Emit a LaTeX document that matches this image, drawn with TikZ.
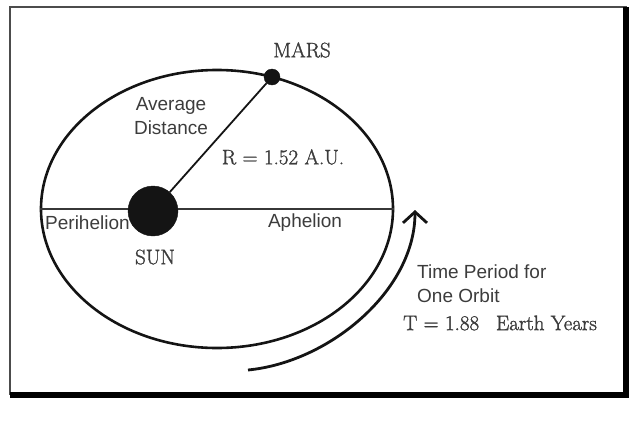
\documentclass[tikz,border=0pt]{standalone}
\usepackage{fontspec}
\setsansfont{Liberation Sans}
\newfontfamily\heavyroman[FakeBold=1.4]{Latin Modern Roman}
\usetikzlibrary{arrows.meta,positioning,shapes.geometric}
\definecolor{inkcolor}{RGB}{20,20,20}
\definecolor{labelgray}{RGB}{60,60,60}
\tikzset{
  body/.style      = {circle,fill=inkcolor,draw=inkcolor,inner sep=0pt},
  romanlbl/.style  = {font=\heavyroman\fontsize{21}{25}\selectfont,text=labelgray,inner sep=0pt},
  sanslbl/.style   = {font=\sffamily\fontsize{19}{23.5}\selectfont,text=labelgray,inner sep=0pt},
  orbitline/.style = {ellipse,draw=inkcolor,line width=2.6pt,inner sep=0pt},
  axisline/.style  = {draw=inkcolor!85,line width=1.8pt},
  radline/.style   = {draw=inkcolor,line width=1.8pt},
  period/.style    = {-{Straight Barb[length=11pt,width=24pt]},line width=2.8pt,draw=inkcolor},
}

\begin{document}
\begin{tikzpicture}[x=1pt,y=-1pt]
  \useasboundingbox (0,0) rectangle (640,426);
  % frame, heavy on the right and bottom
  \draw[black!70,line width=2pt] (10,7) rectangle (626,394);
  \draw[black,line width=6pt,line join=miter] (626,7) -- (626,395) -- (10,395);

  % orbit and major axis
  \node[orbitline,minimum width=352pt,minimum height=278pt] (orbit) at (217,209) {};
  \draw[axisline] (orbit.west) -- (orbit.east);
  \node[sanslbl,anchor=west] (peri) at (45,223) {Perihelion};
  \node[sanslbl] (aph) at (305,223) {Aphelion};

  % sun and planet
  \node[body,minimum size=50pt] (sun) at (153,211) {};
  \node[body,minimum size=16pt] (mars) at (272,77) {};
  \draw[radline] (sun) -- (mars);
  \node[romanlbl] (marslbl) at (302,50) {MARS};
  \node[romanlbl] (sunlbl) at (155,257) {SUN};
  \node[sanslbl,align=center] (avg) at (171,116) {Average\\Distance};
  \node[romanlbl] (rlbl) at (283,157) {R = 1.52 A.U.};

  % period arrow
  \coordinate (pstart) at (248,370);
  \coordinate (pend) at (415,210);
  \draw[period] (pstart) .. controls (330,362) and (415,290) .. (pend);
  \node[sanslbl,align=left,anchor=north west] (plbl) at (417,265) {Time Period for\\One Orbit};
  \node[romanlbl,anchor=west] (tlbl) at (403,323) {T = 1.88\hspace{0.5em} Earth Years};
\end{tikzpicture}
\end{document}
